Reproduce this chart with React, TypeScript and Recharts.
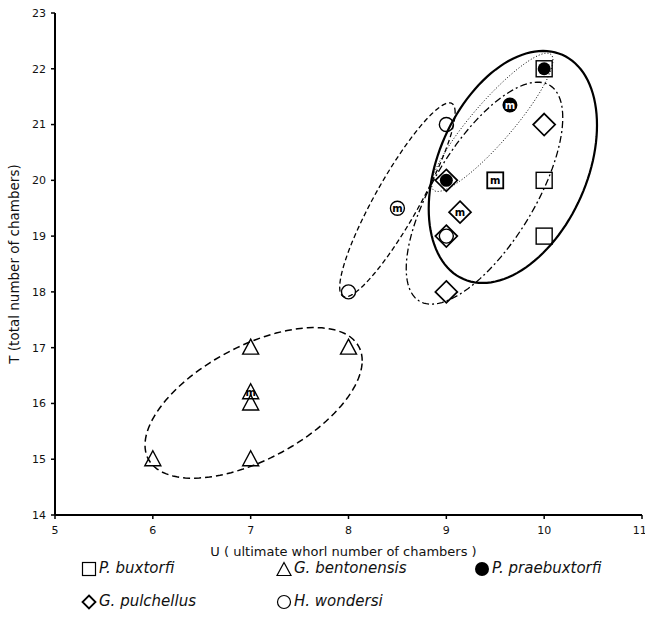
import { ScatterChart, Scatter, XAxis, YAxis } from "recharts";

const FONT = "'DejaVu Sans', Verdana, sans-serif";

const uTicks = [5, 6, 7, 8, 9, 10, 11];
const tTicks = [14, 15, 16, 17, 18, 19, 20, 21, 22, 23];

type Pt = { u: number; t: number };

// specimens (U, T)
const buxtorfi: Pt[] = [
  { u: 10, t: 22 },
  { u: 10, t: 20 },
  { u: 10, t: 19 },
];
const bentonensis: Pt[] = [
  { u: 6, t: 15 },
  { u: 7, t: 15 },
  { u: 7, t: 16 },
  { u: 7, t: 17 },
  { u: 8, t: 17 },
];
const praebuxtorfi: Pt[] = [
  { u: 10, t: 22 },
  { u: 9, t: 20 },
];
const pulchellus: Pt[] = [
  { u: 10, t: 21 },
  { u: 9, t: 20 },
  { u: 9, t: 19 },
  { u: 9, t: 18 },
];
const wondersi: Pt[] = [
  { u: 9, t: 21 },
  { u: 9, t: 19 },
  { u: 8, t: 18 },
];

// means (marked "m")
const buxtorfiMean: Pt[] = [{ u: 9.5, t: 20 }];
const bentonensisMean: Pt[] = [{ u: 7, t: 16.2 }];
const praebuxtorfiMean: Pt[] = [{ u: 9.65, t: 21.35 }];
const pulchellusMean: Pt[] = [{ u: 9.14, t: 19.43 }];
const wondersiMean: Pt[] = [{ u: 8.5, t: 19.5 }];

// ellipses: centre, half range on U and T, correlation
type Ell = { cu: number; ct: number; ru: number; rt: number; rho: number };
const buxtorfiEll: Ell = { cu: 9.68, ct: 20.24, ru: 0.86, rt: 2.08, rho: 0.36 };
const praebuxtorfiEll: Ell = { cu: 9.47, ct: 21.04, ru: 0.62, rt: 1.24, rho: 0.9 };
const pulchellusEll: Ell = { cu: 9.39, ct: 19.77, ru: 0.8, rt: 1.99, rho: 0.68 };
const wondersiEll: Ell = { cu: 8.5, ct: 19.65, ru: 0.59, rt: 1.74, rho: 0.9 };
const bentonensisEll: Ell = { cu: 7.03, ct: 16.01, ru: 1.11, rt: 1.35, rho: 0.56 };

function outline(e: Ell): Pt[] {
  const th = Math.acos(e.rho);
  const pts: Pt[] = [];
  for (let i = 0; i <= 120; i++) {
    const a = (i / 120) * Math.PI * 2;
    pts.push({ u: e.cu + e.ru * Math.cos(a), t: e.ct + e.rt * Math.cos(a - th) });
  }
  return pts;
}

const mText = (x: number, y: number, fill = "#000") => (
  <text x={x} y={y + 3.5} textAnchor="middle" fontSize={10} fontWeight="bold" fontFamily={FONT} fill={fill}>
    m
  </text>
);

const squareShape = (m: boolean) => (p: any) => (
  <g>
    <rect x={p.cx - 8} y={p.cy - 8} width={16} height={16} fill="none" stroke="#000" strokeWidth={m ? 1.8 : 1.4} />
    {m && mText(p.cx, p.cy)}
  </g>
);
const triShape = (m: boolean) => (p: any) => (
  <g>
    <path d={`M${p.cx},${p.cy - 8.5} L${p.cx + 8},${p.cy + 6.5} L${p.cx - 8},${p.cy + 6.5} Z`} fill="none" stroke="#000" strokeWidth={1.4} />
    {m && mText(p.cx, p.cy)}
  </g>
);
const diamondShape = (m: boolean) => (p: any) => (
  <g>
    <path d={`M${p.cx},${p.cy - 11} L${p.cx + 11},${p.cy} L${p.cx},${p.cy + 11} L${p.cx - 11},${p.cy} Z`} fill="none" stroke="#000" strokeWidth={1.7} />
    {m && mText(p.cx, p.cy)}
  </g>
);
const circleShape = (m: boolean) => (p: any) => (
  <g>
    <circle cx={p.cx} cy={p.cy} r={7} fill="none" stroke="#000" strokeWidth={1.4} />
    {m && mText(p.cx, p.cy)}
  </g>
);
const dotShape = (m: boolean) => (p: any) => (
  <g>
    <circle cx={p.cx} cy={p.cy} r={m ? 7.5 : 6.5} fill="#000" />
    {m && mText(p.cx, p.cy, "#fff")}
  </g>
);
const none = () => <g />;

const ellipses = [
  { key: "e-bent", e: bentonensisEll, dash: "7 4", w: 1.5 },
  { key: "e-wond", e: wondersiEll, dash: "5 3", w: 1.3 },
  { key: "e-pulc", e: pulchellusEll, dash: "7 3 2 3", w: 1.3 },
  { key: "e-prae", e: praebuxtorfiEll, dash: "1 2", w: 1 },
  { key: "e-buxt", e: buxtorfiEll, dash: undefined, w: 2.2 },
];

const tickStyle = { fontSize: 11, fill: "#111", fontFamily: FONT };

const legendRows = [
  [
    { icon: "square", label: "P. buxtorfi", x: 81 },
    { icon: "tri", label: "G. bentonensis", x: 276 },
    { icon: "dot", label: "P. praebuxtorfi", x: 474 },
  ],
  [
    { icon: "diamond", label: "G. pulchellus", x: 81 },
    { icon: "circle", label: "H. wondersi", x: 276 },
  ],
];

function LegendIcon({ kind }: { kind: string }) {
  return (
    <svg width={16} height={16} style={{ display: "block" }}>
      {kind === "square" && <rect x={1.5} y={1.5} width={13} height={13} fill="none" stroke="#000" strokeWidth={1.2} />}
      {kind === "tri" && <path d="M8,1.5 L15,14.5 L1,14.5 Z" fill="none" stroke="#000" strokeWidth={1.2} />}
      {kind === "dot" && <circle cx={8} cy={8} r={7} fill="#000" />}
      {kind === "diamond" && <path d="M8,1.5 L14.5,8 L8,14.5 L1.5,8 Z" fill="none" stroke="#000" strokeWidth={1.8} />}
      {kind === "circle" && <circle cx={8} cy={8} r={6.5} fill="none" stroke="#000" strokeWidth={1.2} />}
    </svg>
  );
}

export default function App() {
  return (
    <div style={{ position: "absolute", left: 0, top: 0, width: 645, height: 630, background: "#fff" }}>
      <ScatterChart width={645} height={630} margin={{ top: 13, right: 3, bottom: 70, left: 0 }}>
        <XAxis
          dataKey="u"
          type="number"
          domain={[5, 11]}
          ticks={uTicks}
          allowDataOverflow
          height={45}
          axisLine={{ stroke: "#000", strokeWidth: 2 }}
          tickLine={{ stroke: "#000", strokeWidth: 1.5 }}
          tickSize={4}
          tickMargin={7}
          tick={tickStyle}
          label={{
            value: "U ( ultimate whorl number of chambers )",
            position: "insideBottom",
            offset: 4,
            dx: -5,
            style: { fontSize: 13, fill: "#111", fontFamily: FONT },
          }}
        />
        <YAxis
          dataKey="t"
          type="number"
          domain={[14, 23]}
          ticks={tTicks}
          allowDataOverflow
          width={55}
          axisLine={{ stroke: "#000", strokeWidth: 2 }}
          tickLine={{ stroke: "#000", strokeWidth: 1.5 }}
          tickSize={4}
          tickMargin={5}
          tick={tickStyle}
          label={{
            value: "T (total number of chambers)",
            angle: -90,
            position: "insideLeft",
            offset: 14,
            style: { fontSize: 13.5, fill: "#111", fontFamily: FONT, textAnchor: "middle" },
          }}
        />
        {ellipses.map((el) => (
          <Scatter
            key={el.key}
            data={outline(el.e)}
            shape={none}
            line={{ stroke: "#000", strokeWidth: el.w, strokeDasharray: el.dash, fill: "none" }}
            isAnimationActive={false}
          />
        ))}
        <Scatter data={buxtorfi} shape={squareShape(false)} isAnimationActive={false} />
        <Scatter data={buxtorfiMean} shape={squareShape(true)} isAnimationActive={false} />
        <Scatter data={bentonensis} shape={triShape(false)} isAnimationActive={false} />
        <Scatter data={bentonensisMean} shape={triShape(true)} isAnimationActive={false} />
        <Scatter data={pulchellus} shape={diamondShape(false)} isAnimationActive={false} />
        <Scatter data={pulchellusMean} shape={diamondShape(true)} isAnimationActive={false} />
        <Scatter data={wondersi} shape={circleShape(false)} isAnimationActive={false} />
        <Scatter data={wondersiMean} shape={circleShape(true)} isAnimationActive={false} />
        <Scatter data={praebuxtorfi} shape={dotShape(false)} isAnimationActive={false} />
        <Scatter data={praebuxtorfiMean} shape={dotShape(true)} isAnimationActive={false} />
      </ScatterChart>
      {legendRows.map((row, ri) =>
        row.map((it) => (
          <div
            key={it.label}
            style={{
              position: "absolute",
              left: it.x,
              top: 560 + ri * 33,
              display: "flex",
              alignItems: "center",
              gap: 2,
              fontFamily: FONT,
              fontStyle: "italic",
              fontSize: 15,
              lineHeight: "17px",
              color: "#111",
              whiteSpace: "nowrap",
            }}
          >
            <LegendIcon kind={it.icon} />
            <span>{it.label}</span>
          </div>
        ))
      )}
    </div>
  );
}
